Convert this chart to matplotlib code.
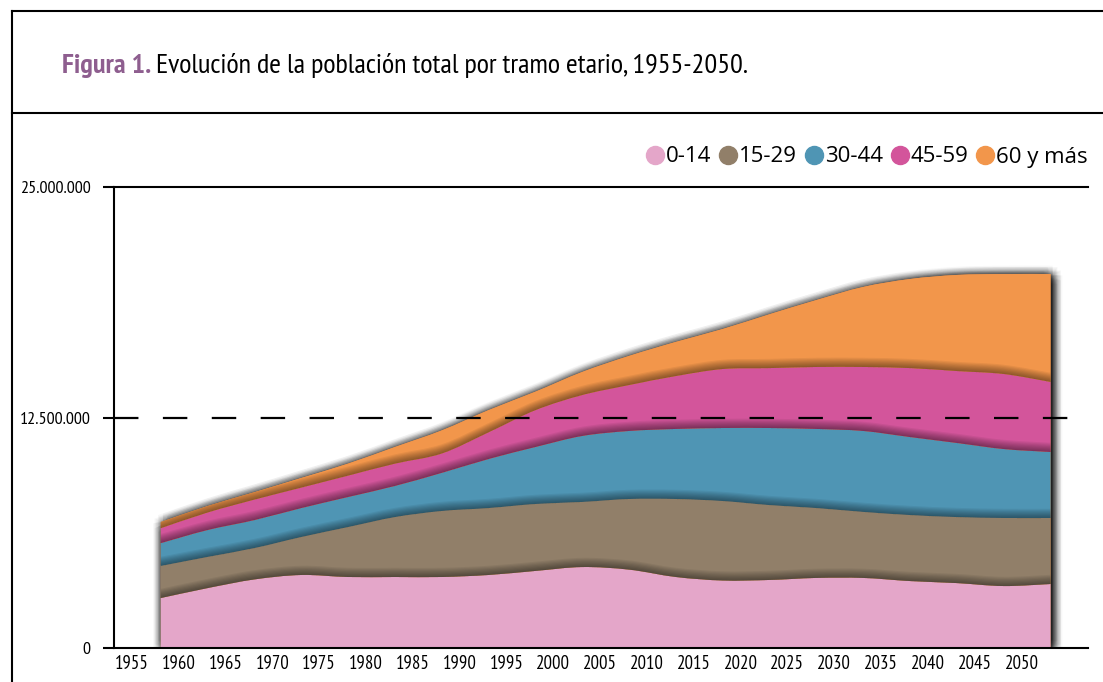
import numpy as np
import matplotlib
matplotlib.use("Agg")
import matplotlib.pyplot as plt
import matplotlib.patheffects as pe
from matplotlib.lines import Line2D
from matplotlib.path import Path
from matplotlib.patches import PathPatch

# Población por tramo etario (millones)
years = [1955, 1960, 1965, 1970, 1975, 1980, 1985, 1990, 1995, 2000,
         2005, 2010, 2015, 2020, 2025, 2030, 2035, 2040, 2045, 2050]
age_0_14 = [2.71, 3.25, 3.72, 3.96, 3.85, 3.85, 3.85, 3.96, 4.18, 4.39,
            4.25, 3.85, 3.66, 3.69, 3.80, 3.80, 3.63, 3.52, 3.36, 3.47]
age_15_29 = [1.74, 1.69, 1.70, 2.06, 2.71, 3.25, 3.58, 3.63, 3.63, 3.53,
             3.83, 4.23, 4.31, 4.06, 3.79, 3.58, 3.58, 3.58, 3.69, 3.58]
age_30_44 = [1.24, 1.46, 1.52, 1.57, 1.63, 1.69, 2.07, 2.66, 3.09, 3.58,
             3.69, 3.80, 3.96, 4.18, 4.29, 4.39, 4.23, 4.02, 3.74, 3.58]
age_45_59 = [0.81, 0.95, 1.11, 1.11, 1.16, 1.21, 1.05, 1.45, 2.00, 2.22,
             2.49, 2.87, 3.20, 3.25, 3.36, 3.47, 3.74, 3.90, 4.07, 3.80]
age_60 = [0.33, 0.35, 0.40, 0.52, 0.65, 0.90, 1.25, 1.20, 1.00, 1.25,
          1.58, 1.85, 2.17, 2.92, 3.63, 4.34, 4.83, 5.21, 5.42, 5.85]

labels = ["0-14", "15-29", "30-44", "45-59", "60 y más"]
colors = ["#E4A6C9", "#917F69", "#4F95B4", "#D3559B", "#F2964B"]
ytick_vals = [0, 12.5e6, 25e6]
ytick_labels = ["0", "12.500.000", "25.000.000"]

narrow = ["PT Sans Narrow", "Fira Sans Condensed", "Roboto Condensed",
          "Archivo Narrow", "Barlow Condensed", "DejaVu Sans"]
plt.rcParams["font.family"] = narrow


def smooth_pts(x, y):
    # curva suavizada (tipo Excel) entre puntos: segmentos bezier cubicos
    xp = np.concatenate([[x[0]], x, [x[-1]]])
    yp = np.concatenate([[y[0]], y, [y[-1]]])
    verts = []
    for i in range(1, len(xp) - 2):
        c1 = (xp[i] + (xp[i + 1] - xp[i - 1]) / 6, yp[i] + (yp[i + 1] - yp[i - 1]) / 6)
        c2 = (xp[i + 1] - (xp[i + 2] - xp[i]) / 6, yp[i + 1] - (yp[i + 2] - yp[i]) / 6)
        verts += [c1, c2, (xp[i + 1], yp[i + 1])]
    return verts


def band(ax, x, lower, upper, **kw):
    up = smooth_pts(x, upper)
    lo = smooth_pts(x[::-1], lower[::-1])
    verts = [(x[0], lower[0]), (x[0], upper[0])] + up + [(x[-1], lower[-1])] + lo + [(x[0], lower[0])]
    codes = [Path.MOVETO, Path.LINETO] + [Path.CURVE4] * len(up) + [Path.LINETO] \
        + [Path.CURVE4] * len(lo) + [Path.CLOSEPOLY]
    p = PathPatch(Path(verts, codes), transform=ax.transData, **kw)
    ax.add_patch(p)
    return p


W, H = 1103, 682
fig = plt.figure(figsize=(W / 100, H / 100), dpi=100)
renderer = fig.canvas.get_renderer()

# marco de la figura
fig.add_artist(Line2D([12 / W, 12 / W], [0, 1 - 11 / H], color="black", lw=1.5))
fig.add_artist(Line2D([12 / W, 1], [1 - 11 / H, 1 - 11 / H], color="black", lw=1.5))
fig.add_artist(Line2D([12 / W, 1], [1 - 113 / H, 1 - 113 / H], color="black", lw=1.5))

# titulo en dos partes, ajustado al ancho de la referencia
fs = 19
t1 = fig.text(62 / W, 1 - 66 / H, "Figura 1.", color="#8E5E8F", fontsize=fs,
              fontweight="bold", va="center")
t2 = fig.text(0, 1 - 66 / H,
              "Evolución de la población total por tramo etario, 1955-2050.",
              color="black", fontsize=fs, va="center")
b1 = t1.get_window_extent(renderer)
b2 = t2.get_window_extent(renderer)
scale = 686 / (b1.width + 5 + b2.width)
fs = fs * scale
t1.set_fontsize(fs)
t2.set_fontsize(fs)
b1 = t1.get_window_extent(renderer)
t2.set_x((b1.x1 + 5) / W)

ax = fig.add_axes([114 / W, 34 / H, 974 / W, 461 / H])

x = np.array(years, dtype=float)
series = [np.array(s) * 1e6 for s in [age_0_14, age_15_29, age_30_44, age_45_59, age_60]]
cum = np.cumsum(series, axis=0)
total = cum[-1]
zero = np.zeros_like(x)

# halo / sombra exterior
halo = []
for r in [1, 2, 3, 4, 5, 6, 7]:
    for ang in np.linspace(0, 2 * np.pi, 12, endpoint=False):
        halo.append(pe.SimplePatchShadow(offset=(r * np.cos(ang) + 1.5, r * np.sin(ang) - 1.0),
                                         shadow_rgbFace="black", alpha=0.03))
halo.append(pe.Normal())
band(ax, x, zero, total, facecolor=colors[-1], lw=0, path_effects=halo, zorder=1)

# capas apiladas
lowers = [zero] + list(cum[:-1])
for lo, up, c in zip(lowers, cum, colors):
    band(ax, x, lo, up, facecolor=c, lw=0, zorder=2)

# sombras internas sobre cada borde
n = 8
h = 0.5e6
for i in range(4):
    b = cum[i]
    top = cum[i + 1]
    for k in range(n):
        band(ax, x, b, np.minimum(b + h * (k + 1) / n, top),
             facecolor="black", alpha=0.06, lw=0, zorder=3)

ax.axhline(12.5e6, color="black", lw=1.6, dashes=(11, 11), zorder=4, clip_on=False)

ax.set_xlim(1950, 2054)
ax.set_ylim(0, 25e6)
ax.set_yticks(ytick_vals)
ax.set_yticklabels(ytick_labels, fontsize=13)
ax.set_xticks(x - 3.1)
ax.set_xticklabels([str(int(y)) for y in years], fontsize=13.5)
ax.tick_params(axis="y", length=8, width=1.5, pad=9)
ax.tick_params(axis="x", length=0, pad=5)
for s in ["left", "bottom", "top"]:
    ax.spines[s].set_linewidth(1.5)
ax.spines["right"].set_visible(False)
ax.patch.set_alpha(0)

handles = [Line2D([], [], marker="o", ls="none", markersize=13, color=c) for c in colors]
fig.legend(handles, labels, loc="center right", ncol=5,
           bbox_to_anchor=(1088 / W, 1 - 157 / H), frameon=False,
           prop={"family": ["Open Sans", "DejaVu Sans"], "size": 16},
           handletextpad=0.0, columnspacing=0.25, handlelength=1.0,
           borderpad=0, borderaxespad=0)

fig.savefig("out.png", dpi=100)
